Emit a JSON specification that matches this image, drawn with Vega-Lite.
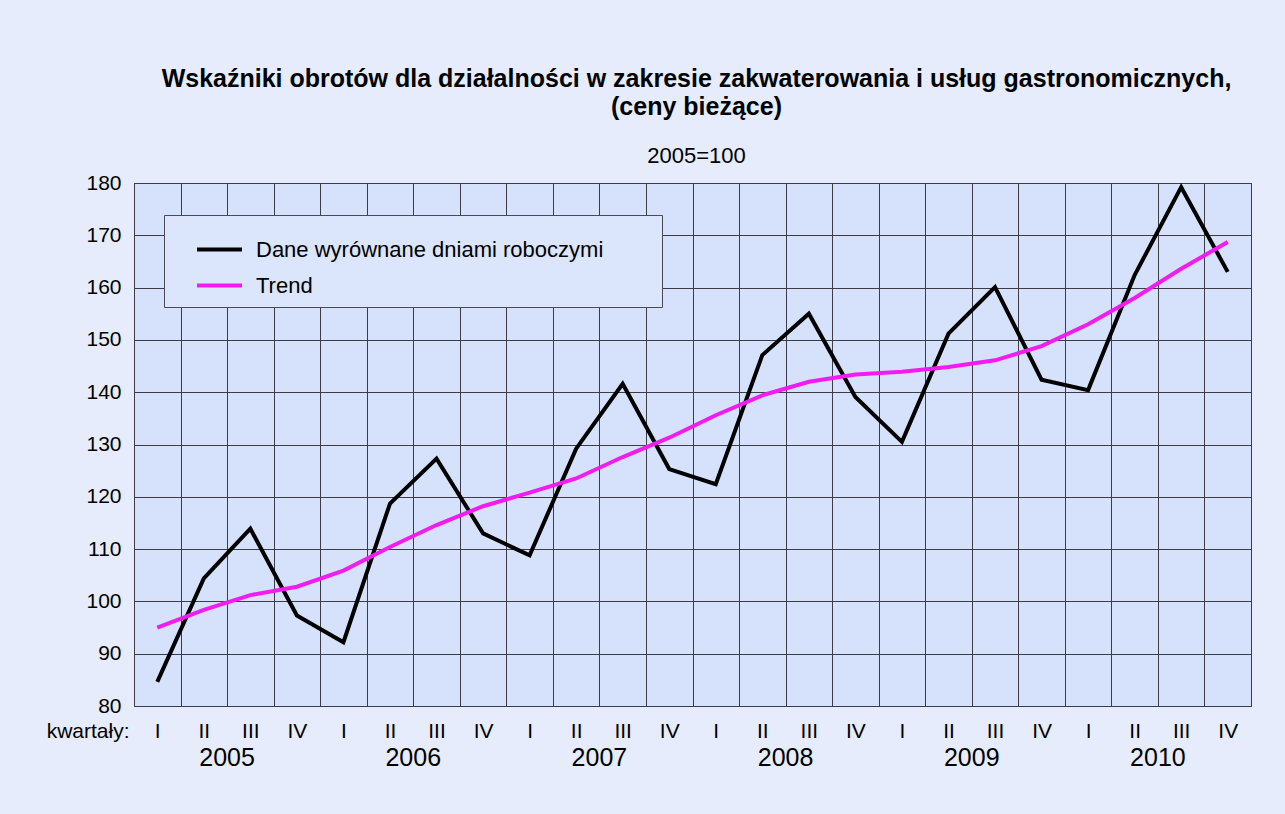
{
  "$schema": "https://vega.github.io/schema/vega-lite/v6.json",
  "width": 1117,
  "height": 523,
  "autosize": {"type": "none"},
  "padding": {"left": 134, "top": 183, "right": 34, "bottom": 108},
  "background": "#e6ecfb",
  "config": {
    "font": "Liberation Sans",
    "view": {"fill": "#d6e2fb", "stroke": "#3c3c46", "strokeWidth": 1}
  },
  "title": {
    "text": ["Wskaźniki obrotów dla działalności w zakresie zakwaterowania i usług gastronomicznych,", "(ceny bieżące)"],
    "subtitle": "2005=100",
    "anchor": "middle",
    "fontSize": 25,
    "fontWeight": "bold",
    "lineHeight": 28,
    "color": "#000000",
    "subtitleFontSize": 22,
    "subtitleColor": "#000000",
    "subtitlePadding": 26,
    "offset": 5,
    "dx": 4
  },
  "data": {
    "values": [
      {"q": "2005-I", "year": "2005", "series": "Dane wyrównane dniami roboczymi", "value": 84.6},
      {"q": "2005-II", "year": "2005", "series": "Dane wyrównane dniami roboczymi", "value": 104.4},
      {"q": "2005-III", "year": "2005", "series": "Dane wyrównane dniami roboczymi", "value": 113.9},
      {"q": "2005-IV", "year": "2005", "series": "Dane wyrównane dniami roboczymi", "value": 97.3},
      {"q": "2006-I", "year": "2006", "series": "Dane wyrównane dniami roboczymi", "value": 92.2},
      {"q": "2006-II", "year": "2006", "series": "Dane wyrównane dniami roboczymi", "value": 118.7},
      {"q": "2006-III", "year": "2006", "series": "Dane wyrównane dniami roboczymi", "value": 127.3},
      {"q": "2006-IV", "year": "2006", "series": "Dane wyrównane dniami roboczymi", "value": 113.0},
      {"q": "2007-I", "year": "2007", "series": "Dane wyrównane dniami roboczymi", "value": 108.8},
      {"q": "2007-II", "year": "2007", "series": "Dane wyrównane dniami roboczymi", "value": 129.2},
      {"q": "2007-III", "year": "2007", "series": "Dane wyrównane dniami roboczymi", "value": 141.6},
      {"q": "2007-IV", "year": "2007", "series": "Dane wyrównane dniami roboczymi", "value": 125.3},
      {"q": "2008-I", "year": "2008", "series": "Dane wyrównane dniami roboczymi", "value": 122.4},
      {"q": "2008-II", "year": "2008", "series": "Dane wyrównane dniami roboczymi", "value": 147.1},
      {"q": "2008-III", "year": "2008", "series": "Dane wyrównane dniami roboczymi", "value": 155.0},
      {"q": "2008-IV", "year": "2008", "series": "Dane wyrównane dniami roboczymi", "value": 139.1},
      {"q": "2009-I", "year": "2009", "series": "Dane wyrównane dniami roboczymi", "value": 130.5},
      {"q": "2009-II", "year": "2009", "series": "Dane wyrównane dniami roboczymi", "value": 151.2},
      {"q": "2009-III", "year": "2009", "series": "Dane wyrównane dniami roboczymi", "value": 160.1},
      {"q": "2009-IV", "year": "2009", "series": "Dane wyrównane dniami roboczymi", "value": 142.4},
      {"q": "2010-I", "year": "2010", "series": "Dane wyrównane dniami roboczymi", "value": 140.4},
      {"q": "2010-II", "year": "2010", "series": "Dane wyrównane dniami roboczymi", "value": 162.4},
      {"q": "2010-III", "year": "2010", "series": "Dane wyrównane dniami roboczymi", "value": 179.2},
      {"q": "2010-IV", "year": "2010", "series": "Dane wyrównane dniami roboczymi", "value": 163.0},
      {"q": "2005-I", "year": "2005", "series": "Trend", "value": 95.0},
      {"q": "2005-II", "year": "2005", "series": "Trend", "value": 98.4},
      {"q": "2005-III", "year": "2005", "series": "Trend", "value": 101.2},
      {"q": "2005-IV", "year": "2005", "series": "Trend", "value": 102.8},
      {"q": "2006-I", "year": "2006", "series": "Trend", "value": 105.9},
      {"q": "2006-II", "year": "2006", "series": "Trend", "value": 110.4},
      {"q": "2006-III", "year": "2006", "series": "Trend", "value": 114.6},
      {"q": "2006-IV", "year": "2006", "series": "Trend", "value": 118.2},
      {"q": "2007-I", "year": "2007", "series": "Trend", "value": 120.8},
      {"q": "2007-II", "year": "2007", "series": "Trend", "value": 123.5},
      {"q": "2007-III", "year": "2007", "series": "Trend", "value": 127.6},
      {"q": "2007-IV", "year": "2007", "series": "Trend", "value": 131.3},
      {"q": "2008-I", "year": "2008", "series": "Trend", "value": 135.6},
      {"q": "2008-II", "year": "2008", "series": "Trend", "value": 139.4},
      {"q": "2008-III", "year": "2008", "series": "Trend", "value": 142.0},
      {"q": "2008-IV", "year": "2008", "series": "Trend", "value": 143.4},
      {"q": "2009-I", "year": "2009", "series": "Trend", "value": 143.9},
      {"q": "2009-II", "year": "2009", "series": "Trend", "value": 144.8},
      {"q": "2009-III", "year": "2009", "series": "Trend", "value": 146.1},
      {"q": "2009-IV", "year": "2009", "series": "Trend", "value": 148.8},
      {"q": "2010-I", "year": "2010", "series": "Trend", "value": 153.0},
      {"q": "2010-II", "year": "2010", "series": "Trend", "value": 158.0},
      {"q": "2010-III", "year": "2010", "series": "Trend", "value": 163.6},
      {"q": "2010-IV", "year": "2010", "series": "Trend", "value": 168.7}
    ]
  },
  "layer": [
    {
      "mark": {"type": "line", "strokeWidth": 4},
      "encoding": {
        "x": {
          "field": "q",
          "type": "ordinal",
          "sort": null,
          "bandPosition": 0.5,
          "scale": {"type": "band", "paddingInner": 0, "paddingOuter": 0},
          "axis": {
            "title": "kwartały:",
            "titleFontSize": 21,
            "titleFontWeight": "normal",
            "titleColor": "#000000",
            "titleX": -5,
            "titleY": 25,
            "titleAlign": "right",
            "titleBaseline": "middle",
            "labelExpr": "split(datum.value, '-')[1]",
            "labelAngle": 0,
            "labelFontSize": 21,
            "labelColor": "#000000",
            "labelPadding": 14,
            "tickBand": "extent",
            "ticks": false,
            "domain": false,
            "grid": true,
            "gridColor": "#3c3c46",
            "gridOpacity": 1,
            "gridWidth": 1
          }
        },
        "y": {
          "field": "value",
          "type": "quantitative",
          "scale": {"domain": [80, 180], "nice": false, "zero": false},
          "axis": {
            "title": null,
            "values": [80, 90, 100, 110, 120, 130, 140, 150, 160, 170, 180],
            "labelFontSize": 21,
            "labelColor": "#000000",
            "labelPadding": 13,
            "ticks": false,
            "domain": false,
            "grid": true,
            "gridColor": "#3c3c46",
            "gridOpacity": 1,
            "gridWidth": 1
          }
        },
        "color": {
          "field": "series",
          "type": "nominal",
          "sort": null,
          "scale": {"domain": ["Dane wyrównane dniami roboczymi", "Trend"], "range": ["#000000", "#f21cf0"]},
          "legend": {
            "orient": "none",
            "legendX": 30,
            "legendY": 32,
            "title": null,
            "fillColor": "#dbe5fb",
            "strokeColor": "#4a4a55",
            "padding": 10,
            "symbolType": "stroke",
            "symbolSize": 2025,
            "symbolStrokeWidth": 4,
            "symbolOffset": 21,
            "labelOffset": 12,
            "labelFontSize": 22,
            "labelColor": "#000000",
            "labelLimit": 700,
            "rowPadding": -30,
            "labelExpr": "datum.label + '\u2800\u2800\u2800'"
          }
        }
      }
    },
    {
      "mark": {"type": "point", "opacity": 0},
      "encoding": {
        "x": {
          "field": "year",
          "type": "ordinal",
          "scale": {"type": "band", "paddingInner": 0, "paddingOuter": 0},
          "axis": {
            "orient": "bottom",
            "title": null,
            "labelAngle": 0,
            "labelFontSize": 25,
            "labelColor": "#000000",
            "labelPadding": 39,
            "ticks": false,
            "domain": false,
            "grid": false
          }
        },
        "y": {"field": "value", "type": "quantitative"}
      }
    }
  ],
  "resolve": {"scale": {"x": "independent"}, "axis": {"x": "independent"}}
}
